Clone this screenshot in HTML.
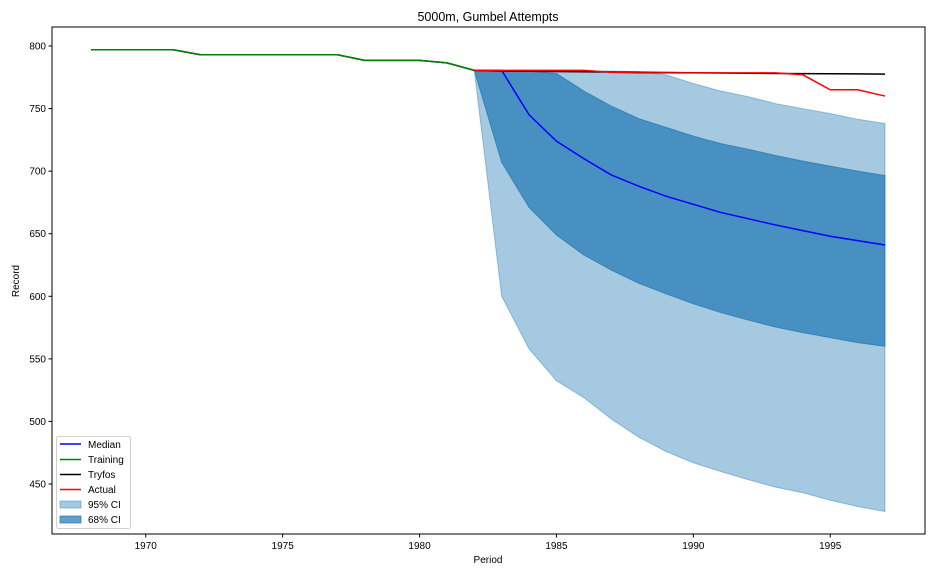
<!DOCTYPE html>
<html><head><meta charset="utf-8">
<style>
html,body{margin:0;padding:0;background:#fff;}
svg{display:block;font-family:"Liberation Sans","DejaVu Sans",sans-serif;}
</style></head>
<body>
<svg id="chart" width="936" height="576" xmlns="http://www.w3.org/2000/svg">
<rect width="936" height="576" fill="#fff"/>
<text x="488" y="21" text-anchor="middle" font-size="12.5">5000m, Gumbel Attempts</text>
<g id="marks"></g>
<g id="axes"></g>
<text x="488" y="563" text-anchor="middle" font-size="10">Period</text>
<text transform="translate(19,281) rotate(-90)" text-anchor="middle" font-size="10">Record</text>
<g>
<rect x="56.5" y="436.5" width="74" height="92" rx="2" fill="#fff" fill-opacity="0.8" stroke="#d0d0d0"/>
<line x1="60" y1="444" x2="81" y2="444" stroke="#0000ff" stroke-width="1.5"/>
<text x="88" y="448" font-size="10">Median</text>
<line x1="60" y1="459.5" x2="81" y2="459.5" stroke="#008000" stroke-width="1.5"/>
<text x="88" y="463" font-size="10">Training</text>
<line x1="60" y1="474.5" x2="81" y2="474.5" stroke="#000" stroke-width="1.5"/>
<text x="88" y="478" font-size="10">Tryfos</text>
<line x1="60" y1="489.5" x2="81" y2="489.5" stroke="#ff0000" stroke-width="1.5"/>
<text x="88" y="493" font-size="10">Actual</text>
<rect x="60" y="501" width="21" height="7" fill="#1f77b4" fill-opacity="0.4" stroke="#1f77b4" stroke-opacity="0.4"/>
<text x="88" y="508" font-size="10">95% CI</text>
<rect x="60" y="516" width="21" height="7" fill="#1f77b4" fill-opacity="0.7" stroke="#1f77b4" stroke-opacity="0.7"/>
<text x="88" y="523" font-size="10">68% CI</text>
</g>
</svg>
<script>
const trainYears = [1968,1969,1970,1971,1972,1973,1974,1975,1976,1977,1978,1979,1980,1981,1982];
const trainValues = [797,797,797,797,793,793,793,793,793,793,788.5,788.5,788.5,786.5,780.5];
const predYears = [1982,1983,1984,1985,1986,1987,1988,1989,1990,1991,1992,1993,1994,1995,1996,1997];
const median = [780.5,780.5,745,724,710,697,688,680,673.5,667,662,657,652.5,648,644.5,641];
const ci68Upper = [780.5,780.5,780,778,764,752,742,735,728,722,717.5,712.5,708,704,700,696.5];
const ci68Lower = [780.5,707,671,649,633,621,610.5,602,594,587,581,575.5,571,567,563,560];
const ci95Upper = [780.5,780,780,780,780,780,779.5,777,770,764,759.5,754,750,746,741.5,738];
const ci95Lower = [780.5,600,558,532.5,519,502,487.5,476,467,460,453.5,447.5,443,437,432,428];
const actual = [780.5,780.5,780.5,780.5,780.5,779,778.5,778.5,778.5,778.5,778.5,778.5,777,765,765,760];
const tryfos = [780.5,780,779.8,779.6,779.4,779.2,779,778.8,778.6,778.4,778.2,778,777.9,777.8,777.7,777.5];
const xTicks = [1970,1975,1980,1985,1990,1995];
const yTicks = [450,500,550,600,650,700,750,800];

const L=52,R=925,T=27,B=534;
const xs = v => 91 + (v-1968)*(885-91)/29;
const ys = v => 46 + (800-v)*(484-46)/350;
const NS='http://www.w3.org/2000/svg';
const marks=document.getElementById('marks'), axes=document.getElementById('axes');
function mk(tag,attrs,parent){const e=document.createElementNS(NS,tag);for(const k in attrs)e.setAttribute(k,attrs[k]);parent.appendChild(e);return e;}
function pts(xa,ya){return xa.map((x,i)=>xs(x).toFixed(2)+','+ys(ya[i]).toFixed(2));}
function band(up,lo,op,name){
  const p=pts(predYears,up).concat(pts(predYears,lo).reverse()).join(' ');
  const e=mk('polygon',{points:p,fill:'#1f77b4','fill-opacity':op,stroke:'#1f77b4','stroke-opacity':op,'stroke-width':1},marks);
  
  
}
band(ci95Upper,ci95Lower,0.4,'ci95-band');
band(ci68Upper,ci68Lower,0.7,'ci68-band');
function line(xa,ya,color,name){
  const e=mk('polyline',{points:pts(xa,ya).join(' '),fill:'none',stroke:color,'stroke-width':1.5},marks);
  
  
}
line(trainYears,trainValues,'#000','tryfos-train-line');
line(trainYears,trainValues,'#008000','training-line');
line(predYears,tryfos,'#000','tryfos-line');
line(predYears,median,'#0000ff','median-line');
line(predYears,actual,'#ff0000','actual-line');

const frame=mk('rect',{x:L,y:T,width:R-L,height:B-T,fill:'none',stroke:'#000','stroke-width':1},axes);


xTicks.forEach(t=>{
  const x=xs(t);
  mk('line',{x1:x,y1:B,x2:x,y2:B+3.5,stroke:'#000'},axes);
  const tx=mk('text',{x:x,y:B+15,'text-anchor':'middle','font-size':10},axes);
  tx.textContent=t;
  
  
});
yTicks.forEach(t=>{
  const y=ys(t);
  mk('line',{x1:L-3.5,y1:y,x2:L,y2:y,stroke:'#000'},axes);
  const tx=mk('text',{x:L-6,y:y+3.5,'text-anchor':'end','font-size':10},axes);
  tx.textContent=t;
  
  
});
</script>
</body></html>
